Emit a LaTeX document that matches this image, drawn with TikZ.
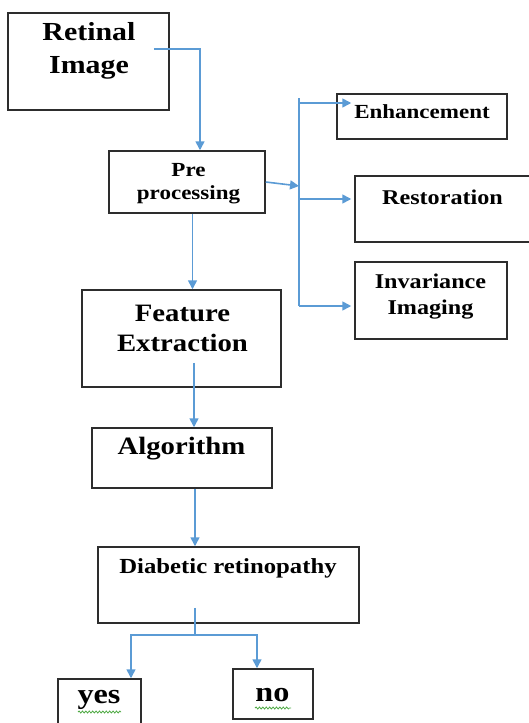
\documentclass[tikz,border=0pt]{standalone}
\usepackage{fontspec}
\newfontfamily\boxfont[FakeStretch=1.15]{Liberation Serif}
\usetikzlibrary{arrows.meta,decorations.pathmorphing}
\definecolor{linkblue}{RGB}{91,155,213}
\definecolor{boxgray}{RGB}{45,45,45}
\definecolor{spellgreen}{RGB}{80,170,70}
\newcommand{\boxsize}[2]{\fontsize{#1}{#2}\selectfont}
\tikzset{
  box/.style={draw=boxgray,line width=1.5pt,inner sep=0pt},
  txt/.style={font=\boxfont\bfseries,align=center,inner sep=0pt},
  link/.style={draw=linkblue,line width=1.6pt},
  squiggle/.style={draw=spellgreen,line width=0.8pt,decorate,
    decoration={snake,amplitude=1pt,segment length=3.4pt}}
}
\begin{document}
\begin{tikzpicture}[x=1pt,y=-1pt,>={Triangle[width=9pt,length=9pt]}]
  \useasboundingbox (0,0) rectangle (528,723);
  % boxes
  \node[box,minimum width=161pt,minimum height=97pt] (retinal) at (88.5,61.5) {};
  \node[box,minimum width=156pt,minimum height=62pt] (pre) at (187,182) {};
  \node[box,minimum width=170pt,minimum height=45pt] (enh) at (422,116.5) {};
  \node[box,minimum width=175pt,minimum height=66pt] (rest) at (442.5,209) {};
  \node[box,minimum width=152pt,minimum height=77pt] (inv) at (431,300.5) {};
  \node[box,minimum width=199pt,minimum height=97pt] (feat) at (181.5,338.5) {};
  \node[box,minimum width=180pt,minimum height=60pt] (alg) at (182,458) {};
  \node[box,minimum width=261pt,minimum height=76pt] (dia) at (228.5,585) {};
  \node[box,minimum width=83pt,minimum height=58pt] (yes) at (99.5,708) {};
  \node[box,minimum width=80pt,minimum height=50pt] (no) at (273,694) {};
  % texts
  \node[txt,font=\boxfont\bfseries\boxsize{26}{33}] (retinaltxt) at (89,51) {Retinal\\Image};
  \node[txt,font=\boxfont\bfseries\boxsize{20}{23}] (pretxt) at (188.5,184) {Pre\\processing};
  \node[txt,font=\boxfont\bfseries\boxsize{20}{24}] (enhtxt) at (422,112) {Enhancement};
  \node[txt,font=\boxfont\bfseries\boxsize{21}{25}] (resttxt) at (442.5,197) {Restoration};
  \node[txt,font=\boxfont\bfseries\boxsize{21}{26}] (invtxt) at (430.5,297) {Invariance\\Imaging};
  \node[txt,font=\boxfont\bfseries\boxsize{25}{30}] (feattxt) at (182.5,328) {Feature\\Extraction};
  \node[txt,font=\boxfont\bfseries\boxsize{25}{30}] (algtxt) at (181.5,449) {Algorithm};
  \node[txt,font=\boxfont\bfseries\boxsize{21.5}{26}] (diatxt) at (228,568) {Diabetic retinopathy};
  \node[txt,font=\boxfont\bfseries\boxsize{28}{32}] (yestxt) at (99,700) {yes};
  \node[txt,font=\boxfont\bfseries\boxsize{28}{32}] (notxt) at (272.5,695) {no};
  % spelling marks
  \draw[squiggle] (78,712) -- (121,712);
  \draw[squiggle] (255,708) -- (291,708);
  % connectors
  \coordinate (split) at (299,186);
  \coordinate (trunktop) at (299,98);
  \coordinate (trunkbot) at (299,306);
  \coordinate (fork) at (195,635);
  \draw[link,->] ([xshift=-16pt,yshift=12.5pt]retinal.east) -| ([xshift=13pt]pre.north);
  \draw[link,->] (pre.east) -- (split);
  \draw[link] (trunktop) -- (trunkbot);
  \draw[link,->] (trunktop |- 0,103) -- ([xshift=15pt,yshift=13.5pt]enh.west);
  \draw[link,->] (trunktop |- 0,199) -- ([xshift=-3pt,yshift=10pt]rest.west);
  \draw[link,->] (trunkbot) -- ([xshift=-3pt,yshift=-5.5pt]inv.west);
  \draw[link,->] ([xshift=5.5pt]pre.south) -- ([xshift=5.5pt]pre.south |- feat.north);
  \draw[link,->] ([xshift=12.5pt,yshift=25pt]feat.south) -- ([xshift=12.5pt]feat.south |- alg.north);
  \draw[link,->] ([xshift=13pt]alg.south) -- ([xshift=13pt]alg.south |- dia.north);
  \draw[link] ([xshift=-33.5pt,yshift=16pt]dia.south) -- (fork);
  \draw[link,->] (fork) -| ([xshift=31.5pt]yes.north);
  \draw[link,->] (fork) -| ([xshift=-16pt]no.north);
\end{tikzpicture}
\end{document}
